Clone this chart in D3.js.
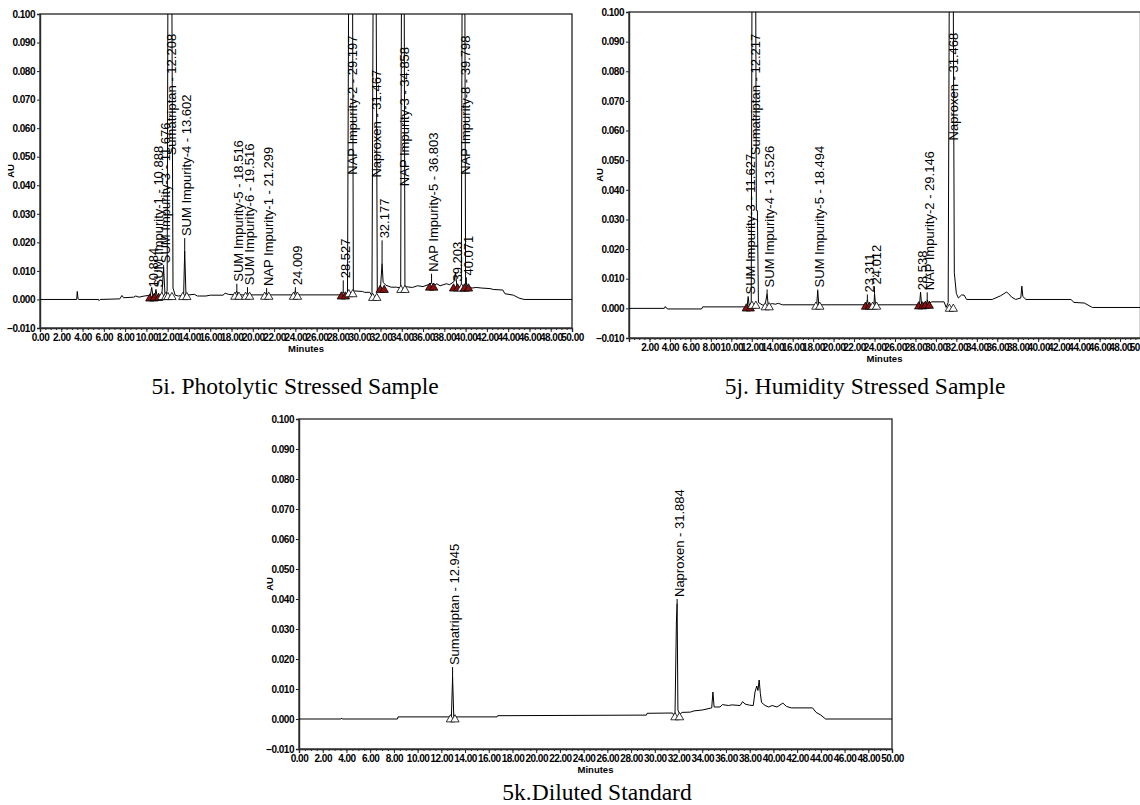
<!DOCTYPE html>
<meta charset="utf-8">
<style>
  body{ margin:0; background:#fff; }
  svg text{ font-family:"Liberation Sans", Arial, sans-serif; fill:#000; }
  .axis text{ font-family:"Liberation Sans Narrow","Arial Narrow","Liberation Sans",sans-serif; font-size:10px; font-weight:bold; letter-spacing:-0.5px; }
  .axis path, .axis line{ stroke:#222; }
  .axis path{ stroke-width:1.4px; }
  .frame{ fill:none; stroke:#333; stroke-width:1.4px; }
  .trace{ fill:none; stroke:#000; stroke-width:1px; }
  .leader{ stroke:#000; stroke-width:1px; }
  .peak-lab{ font-size:13px; }
  .ax-title{ font-family:"Liberation Sans Narrow","Liberation Sans",sans-serif; font-size:9.5px; font-weight:bold; }
  .title{ font-family:"Liberation Serif","Times New Roman",serif; font-size:23.5px; }
</style>
<svg width="1140" height="805"></svg>
<script src="https://d3js.org/d3.v7.min.js"></script>
<script>

var svg = d3.select("svg");

// ---- data (time in minutes, AU) ----
var yTicks = [-0.01, 0, 0.01, 0.02, 0.03, 0.04, 0.05, 0.06, 0.07, 0.08, 0.09, 0.1];
var xTicks = [0,2,4,6,8,10,12,14,16,18,20,22,24,26,28,30,32,34,36,38,40,42,44,46,48,50];

var trace5i = [
  [0,0],[3.45,0],[3.5,0.0028],[3.58,0.0002],[3.65,0],[5.5,0],[5.55,-0.0004],[5.65,0],
  [7.5,0.0002],[7.7,0.0014],[7.85,0.0006],[8.8,0.0008],[9.0,0.0012],[9.3,0.0008],[9.8,0.0012],
  [10.2,0.0014],[10.35,0.0008],[10.5,0.0042],[10.62,0.001],[10.8,0.0015],[10.9,0.0035],[11.0,0.0012],
  [11.45,0.0015],[11.62,0.011],[11.75,0.0015],[11.95,0.003],[12.05,0.15],[12.35,0.15],[12.5,0.004],
  [12.7,0.0015],[13.0,0.0012],[13.5,0.0015],[13.6,0.017],[13.72,0.0015],[14.5,0.0018],[14.8,0.0012],
  [15.6,0.0012],[16.0,0.0015],[17.2,0.0015],[17.4,0.0022],[17.7,0.0018],[18.3,0.0016],[18.5,0.003],
  [18.6,0.0016],[19.4,0.0016],[19.5,0.0025],[19.6,0.0016],[21.2,0.0016],[21.3,0.0022],[21.4,0.0016],
  [23.9,0.0016],[24.0,0.0032],[24.1,0.0016],[28.2,0.0016],[28.5,0.0028],[28.6,0.0018],[28.9,0.0022],
  [29.05,0.15],[29.35,0.15],[29.45,0.003],[30.3,0.0028],[30.5,0.0025],[31.0,0.0025],[31.2,0.0012],
  [31.35,0.15],[31.55,0.15],[31.7,0.003],[32.0,0.004],[32.15,0.0126],[32.25,0.006],[32.5,0.005],
  [33.0,0.0043],[33.5,0.0043],[33.9,0.004],[34.0,0.15],[34.2,0.15],[34.3,0.0045],[35.0,0.0042],
  [35.5,0.0048],[36.0,0.0045],[36.5,0.0052],[36.8,0.0058],[37.0,0.0048],[37.3,0.0055],[37.6,0.0048],
  [38.2,0.0055],[38.5,0.0052],[38.9,0.0062],[39.05,0.0095],[39.2,0.004],[39.6,0.0045],[39.7,0.15],
  [39.9,0.15],[40.0,0.0045],[40.07,0.006],[40.15,0.0045],[40.6,0.004],[41.0,0.0042],[41.5,0.004],
  [42.3,0.0038],[42.6,0.0035],[43.5,0.0033],[43.7,0.002],[44.5,0.0015],[45.0,0.0005],[45.5,0],[50,0]
];

var trace5j = [
  [0,0],[3.45,0],[3.55,0.0006],[3.65,0.0001],[3.8,-0.0002],[7.1,-0.0002],[7.2,0.0005],[11.3,0.0005],
  [11.55,0.0008],[11.65,0.004],[11.75,0.0008],[11.95,0.002],[12.05,0.15],[12.35,0.15],[12.45,0.033],
  [12.55,0.033],[12.65,0.002],[13.0,0.0012],[13.3,0.001],[13.5,0.005],[13.6,0.0012],[14.0,0.0016],
  [14.3,0.0014],[14.6,0.0017],[15.0,0.0012],[18.35,0.0012],[18.45,0.006],[18.55,0.0012],[23.2,0.0012],
  [23.3,0.003],[23.4,0.0012],[23.95,0.0012],[24.0,0.005],[24.1,0.0012],[28.4,0.0012],[28.5,0.0055],
  [28.6,0.0013],[29.1,0.0014],[29.15,0.003],[29.25,0.0016],[29.6,0.0022],[30.8,0.0022],[31.0,0.0003],
  [31.2,0.002],[31.35,0.15],[31.65,0.15],[31.8,0.012],[32.0,0.005],[32.2,0.0035],[32.5,0.0045],
  [32.75,0.0045],[33.0,0.003],[35.5,0.003],[36.3,0.0042],[36.9,0.0055],[37.1,0.005],[37.4,0.0038],
  [37.8,0.003],[38.3,0.0035],[38.4,0.0075],[38.5,0.004],[38.8,0.003],[43.2,0.003],[43.5,0.002],
  [44.5,0.0018],[45.3,0.0003],[50,0.0003]
];

var trace5k = [
  [0,0],[3.55,0],[3.6,0.0003],[3.65,0],[8.3,0],[8.35,0.0007],[12.85,0.0007],[12.95,0.014],[13.05,0.0007],
  [16.7,0.0007],[16.75,0.0011],[29.3,0.0013],[29.35,0.0019],[31.5,0.002],[31.7,0.0005],[31.82,0.032],
  [31.88,0.0385],[31.95,0.003],[32.1,0.0015],[32.3,0.0022],[33.0,0.0023],[33.3,0.0027],[34.0,0.003],
  [34.8,0.0037],[34.9,0.009],[35.0,0.004],[35.5,0.004],[35.7,0.0048],[36.2,0.0045],[36.5,0.0047],
  [37.2,0.0045],[37.4,0.0058],[37.6,0.005],[38.0,0.0046],[38.3,0.0045],[38.45,0.009],[38.6,0.011],
  [38.7,0.0095],[38.8,0.013],[38.9,0.0085],[39.0,0.0055],[39.3,0.0045],[39.6,0.004],[39.9,0.0045],
  [40.3,0.004],[40.8,0.0053],[41.1,0.0042],[41.5,0.0037],[43.3,0.0037],[43.6,0.0022],[44.0,0.0013],
  [44.4,0],[50,0]
];

// peak labels: rt (min), apex AU, AU where the label starts, baseline AU for markers, red marker
var peaks5i = [
  {rt:10.5,  top:0.0042, lab:0.0035, foot:0.001,  red:true,  text:"10.884"},
  {rt:10.95, top:0.0035, lab:0.0035, foot:0.0012, red:true,  text:"SUM Impurity-1 - 10.888"},
  {rt:11.62, top:0.011,  lab:0.012,  foot:0.0015, red:false, text:"SUM Impurity-3 - 11.676"},
  {rt:12.2,  top:0.1,    lab:0.0498, foot:0.0015, red:false, text:"Sumatriptan - 12.208"},
  {rt:13.6,  top:0.017,  lab:0.0215, foot:0.0015, red:false, text:"SUM Impurity-4 - 13.602"},
  {rt:18.5,  top:0.003,  lab:0.0055, foot:0.0016, red:false, text:"SUM Impurity-5 - 18.516"},
  {rt:19.5,  top:0.0025, lab:0.0043, foot:0.0016, red:false, text:"SUM Impurity-6 - 19.516"},
  {rt:21.3,  top:0.0022, lab:0.004,  foot:0.0016, red:false, text:"NAP Impurity-1 - 21.299"},
  {rt:24.0,  top:0.0032, lab:0.0043, foot:0.0016, red:false, text:"24.009"},
  {rt:28.5,  top:0.0028, lab:0.0067, foot:0.0017, red:true,  text:"28.527"},
  {rt:29.2,  top:0.1,    lab:0.043,  foot:0.0025, red:false, text:"NAP Impurity-2 - 29.197"},
  {rt:31.45, top:0.1,    lab:0.042,  foot:0.0012, red:false, text:"Naproxen - 31.467"},
  {rt:32.15, top:0.0126, lab:0.0207, foot:0.004,  red:true,  text:"32.177"},
  {rt:34.1,  top:0.1,    lab:0.039,  foot:0.004,  red:false, text:"NAP Impurity-3 - 34.858"},
  {rt:36.8,  top:0.0058, lab:0.009,  foot:0.0048, red:true,  text:"NAP Impurity-5 - 36.803"},
  {rt:39.05, top:0.0095, lab:0.0056, foot:0.0045, red:true,  text:"39.203"},
  {rt:39.8,  top:0.1,    lab:0.043,  foot:0.0045, red:false, text:"NAP Impurity-8 - 39.798"},
  {rt:40.07, top:0.006,  lab:0.0077, foot:0.0045, red:true,  text:"40.071"}
];

var peaks5j = [
  {rt:11.65, top:0.004,  lab:0.004,  foot:0.0006, red:true,  text:"SUM Impurity-3 - 11.627"},
  {rt:12.2,  top:0.1,    lab:0.051,  foot:0.0015, red:false, text:"Sumatriptan - 12.217"},
  {rt:13.5,  top:0.005,  lab:0.0064, foot:0.001,  red:false, text:"SUM Impurity-4 - 13.526"},
  {rt:18.45, top:0.006,  lab:0.0064, foot:0.0012, red:false, text:"SUM Impurity-5 - 18.494"},
  {rt:23.3,  top:0.003,  lab:0.0047, foot:0.0012, red:true,  text:"23.311"},
  {rt:24.0,  top:0.005,  lab:0.0074, foot:0.0012, red:false, text:"24.012"},
  {rt:28.5,  top:0.0055, lab:0.0054, foot:0.0013, red:true,  text:"28.538"},
  {rt:29.15, top:0.003,  lab:0.0054, foot:0.0015, red:true,  text:"NAP Impurity-2 - 29.146"},
  {rt:31.5,  top:0.1,    lab:0.056,  foot:0.0005, red:false, text:"Naproxen - 31.468"}
];

var peaks5k = [
  {rt:12.95, top:0.014,  lab:0.0173, foot:0.0005, red:false, text:"Sumatriptan - 12.945"},
  {rt:31.88, top:0.0385, lab:0.040,  foot:0.0012, red:false, text:"Naproxen - 31.884"}
];

// ---- layout of the three chromatograms ----
var panels = [
  {trace:trace5i, peaks:peaks5i, left:40,  right:572,   top:14,  bottom:328, skipZero:false,
   title:"5i. Photolytic Stressed Sample", titleX:295, titleY:394},
  {trace:trace5j, peaks:peaks5j, left:629, right:1140.5, top:12, bottom:338, skipZero:true,
   title:"5j. Humidity Stressed Sample", titleX:865, titleY:394},
  {trace:trace5k, peaks:peaks5k, left:299, right:892,   top:419, bottom:749, skipZero:false,
   title:"5k.Diluted Standard", titleX:597, titleY:800}
];

var fmtX = d3.format(".2f"), fmtY = d3.format(".3f");

panels.forEach(function(p, i){
  var x = d3.scaleLinear().domain([0, 50]).range([p.left, p.right]);
  var y = d3.scaleLinear().domain([-0.01, 0.1]).range([p.bottom, p.top]);
  var g = svg.append("g");

  g.append("clipPath").attr("id", "clip" + i)
    .append("rect")
    .attr("x", p.left).attr("y", p.top)
    .attr("width", p.right - p.left).attr("height", p.bottom - p.top);

  // minor ticks every half minute
  g.append("g").attr("class", "axis")
    .attr("transform", "translate(0," + p.bottom + ")")
    .call(d3.axisBottom(x).tickValues(d3.range(0, 50.01, 0.5)).tickSize(2).tickFormat(""))
    .select(".domain").remove();

  g.append("g").attr("class", "axis")
    .attr("transform", "translate(0," + p.bottom + ")")
    .call(d3.axisBottom(x).tickValues(xTicks).tickSize(4).tickPadding(2)
      .tickFormat(function(d){ return (p.skipZero && d === 0) ? "" : fmtX(d); }));

  g.append("g").attr("class", "axis")
    .attr("transform", "translate(" + p.left + ",0)")
    .call(d3.axisLeft(y).tickValues(yTicks).tickSize(3).tickPadding(2).tickFormat(fmtY));

  g.append("rect").attr("class", "frame")
    .attr("x", p.left).attr("y", p.top)
    .attr("width", p.right - p.left).attr("height", p.bottom - p.top);

  g.append("text").attr("class", "ax-title")
    .attr("transform", "translate(" + (p.left - 26) + "," + ((p.top + p.bottom) / 2) + ") rotate(-90)")
    .attr("text-anchor", "middle").text("AU");

  g.append("text").attr("class", "ax-title")
    .attr("x", (p.left + Math.min(p.right, 1140)) / 2).attr("y", p.bottom + 24)
    .attr("text-anchor", "middle").text("Minutes");

  var line = d3.line().x(function(d){ return x(d[0]); }).y(function(d){ return y(d[1]); });

  g.append("path").attr("class", "trace")
    .attr("clip-path", "url(#clip" + i + ")")
    .attr("d", line(p.trace));

  // integration markers
  var tri = d3.symbol().type(d3.symbolTriangle).size(30);
  p.peaks.forEach(function(pk){
    [pk.rt - 0.18, pk.rt + 0.2].forEach(function(t){
      g.append("path").attr("d", tri)
        .attr("transform", "translate(" + x(t) + "," + (y(pk.foot) + 2) + ")")
        .attr("fill", pk.red ? "#8b1010" : "#fff")
        .attr("stroke", "#000").attr("stroke-width", 0.8);
    });
  });

  // peak labels
  p.peaks.forEach(function(pk){
    var px = x(pk.rt);
    if (pk.lab > pk.top) {
      g.append("line").attr("class", "leader")
        .attr("x1", px).attr("x2", px)
        .attr("y1", y(pk.top)).attr("y2", y(pk.lab));
    }
    g.append("text").attr("class", "peak-lab")
      .attr("transform", "translate(" + (px + 2) + "," + (y(pk.lab) - 2) + ") rotate(-90)")
      .attr("dy", "0.35em")
      .text(pk.text);
  });

  svg.append("text").attr("class", "title")
    .attr("x", p.titleX).attr("y", p.titleY)
    .attr("text-anchor", "middle").text(p.title);
});

</script>
